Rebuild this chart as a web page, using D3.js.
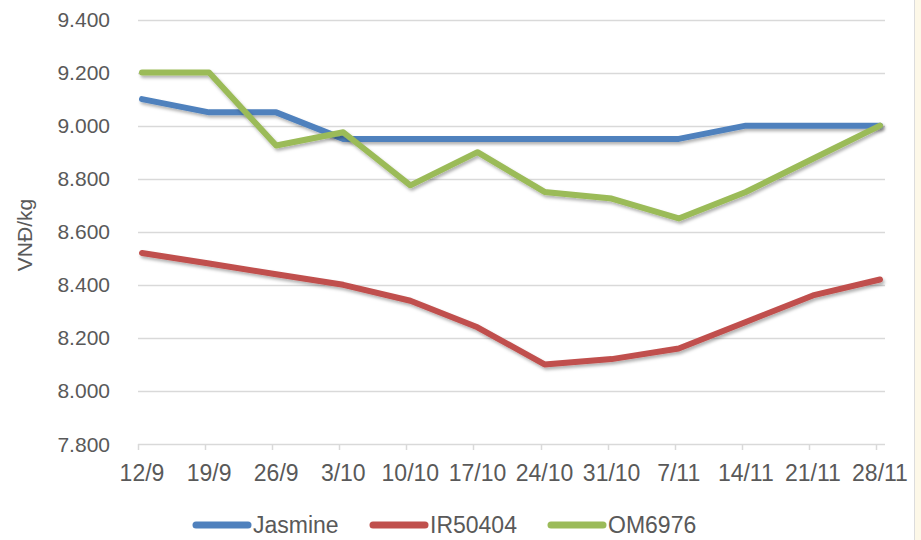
<!DOCTYPE html>
<html>
<head>
<meta charset="utf-8">
<script src="https://cdn.jsdelivr.net/npm/d3@7"></script>
<style>
  body { margin: 0; background: #fff; }
  svg { display: block; }
</style>
</head>
<body>
<div id="chart"></div>
<script>
// Data
const weeks = ["12/9", "19/9", "26/9", "3/10", "10/10", "17/10", "24/10", "31/10", "7/11", "14/11", "21/11", "28/11"];
const jasmine = [9.1, 9.05, 9.05, 8.95, 8.95, 8.95, 8.95, 8.95, 8.95, 9.0, 9.0, 9.0];
const ir50404 = [8.52, 8.48, 8.44, 8.4, 8.34, 8.24, 8.1, 8.12, 8.16, 8.26, 8.36, 8.42];
const om6976 = [9.2, 9.2, 8.925, 8.975, 8.775, 8.9, 8.75, 8.725, 8.65, 8.75, 8.875, 9.0];
const yTicks = [7.8, 8.0, 8.2, 8.4, 8.6, 8.8, 9.0, 9.2, 9.4];

const seriesNames = ["Jasmine", "IR50404", "OM6976"];
const colors = {
  Jasmine: "#4f81bd",
  IR50404: "#c0504d",
  OM6976: "#9bbb59",
  grid: "#d9d9d9",
  text: "#595959",
};

const width = 921,
  height = 540;
const font = "'Liberation Sans', Arial, sans-serif";

const svg = d3
  .select("#chart")
  .append("svg")
  .attr("width", width)
  .attr("height", height);

// Soft shadow under the lines
const defs = svg.append("defs");
const shadow = defs.append("filter").attr("id", "shadow").attr("x", "-5%").attr("y", "-20%").attr("width", "110%").attr("height", "140%");
shadow.append("feDropShadow").attr("dx", 1.5).attr("dy", 2.5).attr("stdDeviation", 1.8).attr("flood-color", "#000").attr("flood-opacity", 0.3);

// Right edge of the frame
svg.append("rect").attr("x", 915).attr("y", 0).attr("width", 6).attr("height", height).attr("fill", "#fdf8e8");
svg.append("line").attr("x1", 914.5).attr("x2", 914.5).attr("y1", 0).attr("y2", height).attr("stroke", "#dcdcdc");

const plotLeft = 138,
  plotRight = 885;

const x = d3.scalePoint().domain(weeks).range([142, 880]);
const y = d3.scaleLinear().domain([7.8, 9.4]).range([444, 19.5]);

const fmt = (v) => v.toFixed(3);

// Gridlines
svg
  .append("g")
  .selectAll("line")
  .data(yTicks)
  .join("line")
  .attr("x1", plotLeft)
  .attr("x2", plotRight)
  .attr("y1", (d) => Math.round(y(d)) + 0.5)
  .attr("y2", (d) => Math.round(y(d)) + 0.5)
  .attr("stroke", colors.grid)
  .attr("stroke-width", (d) => (d === 7.8 ? 1.5 : 1.3));

// Y axis labels
svg
  .append("g")
  .selectAll("text")
  .data(yTicks)
  .join("text")
  .attr("x", 110)
  .attr("y", (d) => y(d))
  .attr("dy", "0.36em")
  .attr("text-anchor", "end")
  .attr("font-family", font)
  .attr("font-size", 21)
  .attr("fill", colors.text)
  .text((d) => fmt(d));

// Y axis title
svg
  .append("text")
  .attr("transform", "translate(32,235) rotate(-90)")
  .attr("text-anchor", "middle")
  .attr("font-family", font)
  .attr("font-size", 21)
  .attr("fill", colors.text)
  .text("VNĐ/kg");

// X axis tick marks and labels
const xAxis = svg.append("g");
xAxis
  .selectAll("line")
  .data(weeks)
  .join("line")
  .attr("x1", (d) => Math.round(x(d) - 4) + 0.5)
  .attr("x2", (d) => Math.round(x(d) - 4) + 0.5)
  .attr("y1", 444)
  .attr("y2", 450)
  .attr("stroke", colors.grid)
  .attr("stroke-width", 1.5);

xAxis
  .selectAll("text")
  .data(weeks)
  .join("text")
  .attr("x", (d) => x(d))
  .attr("y", 481)
  .attr("text-anchor", "middle")
  .attr("font-family", font)
  .attr("font-size", 23)
  .attr("fill", colors.text)
  .text((d) => d);

// Lines
const seriesData = { Jasmine: jasmine, IR50404: ir50404, OM6976: om6976 };
const line = d3
  .line()
  .x((d, i) => x(weeks[i]))
  .y((d) => y(d));

svg
  .append("g")
  .selectAll("path")
  .data(seriesNames)
  .join("path")
  .attr("d", (name) => line(seriesData[name]))
  .attr("fill", "none")
  .attr("stroke", (name) => colors[name])
  .attr("stroke-width", 6)
  .attr("stroke-linejoin", "round")
  .attr("stroke-linecap", "round")
  .attr("filter", "url(#shadow)");

// Legend
const legendX = [196, 373, 551];
const legend = svg
  .append("g")
  .selectAll("g")
  .data(seriesNames)
  .join("g")
  .attr("transform", (d, i) => `translate(${legendX[i]},525)`);

legend
  .append("line")
  .attr("x1", 0)
  .attr("x2", 52)
  .attr("stroke", (d) => colors[d])
  .attr("stroke-width", 7)
  .attr("stroke-linecap", "round");

legend
  .append("text")
  .attr("x", 57)
  .attr("dy", "0.36em")
  .attr("font-family", font)
  .attr("font-size", 23)
  .attr("fill", colors.text)
  .text((d) => d);
</script>
</body>
</html>
